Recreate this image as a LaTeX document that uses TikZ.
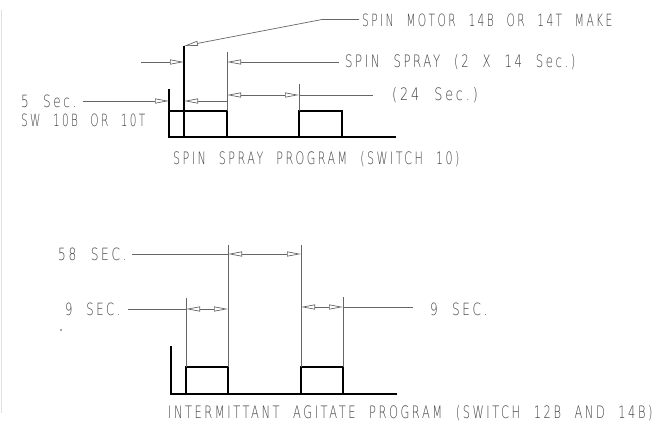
\documentclass[tikz,border=0pt]{standalone}
\usepackage{fontspec}
\usetikzlibrary{arrows.meta}
\newfontfamily\cadfont{DejaVu Sans ExtraLight}[LetterSpace=22,WordSpace=2.2]
\newcommand\cadtxt[3]{\resizebox{#1pt}{#2pt}{\cadfont #3\kern-0.2em}}
\begin{document}
\begin{tikzpicture}[x=1pt,y=-1pt,
  heavy/.style={line width=1.7pt,black,line join=miter},
  fine/.style={line width=0.7pt,black!60},
  tri/.tip={Triangle[open,length=14pt,width=5pt,line width=0.7pt]},
  lbl/.style={inner sep=0pt,anchor=base west,text=black!75}]
\useasboundingbox (0,0) rectangle (656,422);
\draw[line width=1pt,black!12] (1,10) -- (1,413);
% ---------- top diagram ----------
\coordinate (a0) at (169,89);
\coordinate (a1) at (169,137);
\coordinate (a2) at (396,137);
\draw[heavy] (a0) -- (a1) -- (a2);
\draw[heavy] (169,111) -- (227,111) -- (227,137);
\draw[heavy] (299,137) -- (299,111) -- (342,111) -- (342,137);
\coordinate (m0) at (184,46);
\draw[heavy] (m0) -- (184,137);
\draw[fine] (227,52) -- (227,111);
\draw[fine] (299,84) -- (299,111);
\node[lbl] (t1) at (362,26.5) {\cadtxt{248}{12.5}{SPIN MOTOR 14B OR 14T MAKE}};
\node[lbl] (t2) at (345,68) {\cadtxt{228}{13}{SPIN SPRAY (2 X 14 Sec.)}};
\node[lbl] (t3) at (392,100.5) {\cadtxt{83}{13}{(24 Sec.)}};
\node[lbl] (t4) at (21,108) {\cadtxt{53}{12.5}{5 Sec.}};
\node[lbl] (t5) at (21,127) {\cadtxt{122}{12.5}{SW 10B OR 10T}};
\node[lbl] (t6) at (173,165) {\cadtxt{284}{13}{SPIN SPRAY PROGRAM (SWITCH 10)}};
\draw[fine,tri-] (m0) -- (322,19.5) -- (359,19.5);
\draw[fine,-tri] (141,62) -- (184,62);
\draw[fine,tri-] (227,62) -- (339,62);
\draw[fine,tri-tri] (227,95) -- (299,95);
\draw[fine] (299,95) -- (373,95);
\draw[fine,-tri] (83,101) -- (169,101);
\draw[fine,tri-] (184,101) -- (227,101);
% ---------- bottom diagram ----------
\coordinate (b0) at (171,346);
\coordinate (b1) at (171,394);
\coordinate (b2) at (397,394);
\draw[heavy] (b0) -- (b1) -- (b2);
\draw[heavy] (186,394) -- (186,367) -- (228,367) -- (228,394);
\draw[heavy] (301,394) -- (301,367) -- (343,367) -- (343,394);
\draw[fine] (186,298) -- (186,367);
\draw[fine] (228,245) -- (228,367);
\draw[fine] (301,245) -- (301,367);
\draw[fine] (343,297) -- (343,367);
\node[lbl] (u1) at (58,261) {\cadtxt{66}{12.5}{58 SEC.}};
\node[lbl] (u2) at (65,316) {\cadtxt{53}{12.5}{9 SEC.}};
\node[lbl] (u3) at (430,315) {\cadtxt{55}{12.5}{9 SEC.}};
\node[lbl] (u4) at (168,418) {\cadtxt{482}{13}{INTERMITTANT AGITATE PROGRAM (SWITCH 12B AND 14B)}};
\draw[fine] (132,254) -- (228,254);
\draw[fine,tri-tri] (228,254) -- (301,254);
\draw[fine] (128,309) -- (186,309);
\draw[fine,tri-tri] (186,309) -- (228,309);
\draw[fine,tri-tri] (301,307) -- (343,307);
\draw[fine] (343,307) -- (413,307);
\fill[black!70] (61,330) circle (0.9pt);
\end{tikzpicture}
\end{document}
